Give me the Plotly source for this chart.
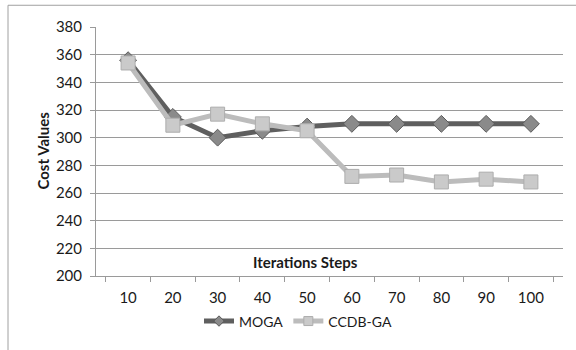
import plotly.graph_objects as go

# Iteration steps (categories) and cost per algorithm
steps = ["10", "20", "30", "40", "50", "60", "70", "80", "90", "100"]
moga = [356, 315, 300, 305, 308, 310, 310, 310, 310, 310]
ccdb_ga = [354, 309, 317, 310, 305, 272, 273, 268, 270, 268]
y_ticks = [200, 220, 240, 260, 280, 300, 320, 340, 360, 380]

FONT = "Lato"
GRID = "#9a9a9a"

series = [
    dict(name="MOGA", y=moga, line="#5f5f5f", symbol="diamond", size=13,
         fill="#8a8a8a", edge="#5a5a5a", legend_size=8),
    dict(name="CCDB-GA", y=ccdb_ga, line="#bcbcbc", symbol="square", size=14,
         fill="#cacaca", edge="#adadad", legend_size=9),
]

fig = go.Figure()
for s in series:
    fig.add_trace(go.Scatter(
        x=steps, y=s["y"], name=s["name"], mode="lines+markers",
        showlegend=False,
        line=dict(color=s["line"], width=5),
        marker=dict(symbol=s["symbol"], size=s["size"], color=s["fill"],
                    line=dict(color=s["edge"], width=1)),
    ))
# legend entries carry smaller markers than the plotted points
for s in series:
    fig.add_trace(go.Scatter(
        x=[None], y=[None], name=s["name"], mode="lines+markers",
        line=dict(color=s["line"], width=5),
        marker=dict(symbol=s["symbol"], size=s["legend_size"], color=s["fill"],
                    line=dict(color=s["edge"], width=1)),
    ))

# plot-area pixel box used for the frame lines and titles
L, R, T, B = 96, 563, 27, 279
W, H = R - L, B - T

def px(x):
    return (x - L) / W

def py(y):
    return (B - y) / H

fig.update_layout(
    width=576, height=350,
    margin=dict(l=L, r=576 - R, t=T, b=350 - B),
    paper_bgcolor="white", plot_bgcolor="white",
    font=dict(family=FONT, size=15, color="#1a1a1a"),
    showlegend=True,
    legend=dict(orientation="h", x=px(298), xanchor="center", y=py(325),
                yanchor="middle", font=dict(size=14), itemwidth=30,
                tracegroupgap=0, bgcolor="rgba(0,0,0,0)"),
    xaxis=dict(type="category", categoryorder="array", categoryarray=steps,
               tickson="boundaries", ticks="outside", ticklen=5,
               tickcolor=GRID, showline=True, linecolor=GRID, linewidth=1,
               showgrid=False, zeroline=False, ticklabelstandoff=8,
               tickfont=dict(size=15)),
    yaxis=dict(range=[200, 380], tickvals=y_ticks, ticks="outside", ticklen=5,
               tickcolor=GRID, showline=True, linecolor=GRID, linewidth=1,
               showgrid=True, gridcolor=GRID, gridwidth=1, zeroline=False,
               ticklabelstandoff=5, tickfont=dict(size=15)),
    annotations=[
        dict(text="<b>Iterations Steps</b>", xref="paper", yref="paper",
             x=px(305), y=py(265), xanchor="center", yanchor="middle",
             showarrow=False, font=dict(size=15)),
        dict(text="<b>Cost Values</b>", xref="paper", yref="paper",
             x=px(43), y=py(152), xanchor="center", yanchor="middle",
             showarrow=False, textangle=-90, font=dict(size=15)),
    ],
    shapes=[
        dict(type="line", xref="paper", yref="paper",
             x0=px(8), x1=px(580), y0=py(5), y1=py(5),
             line=dict(color="#a0a0a0", width=1)),
        dict(type="line", xref="paper", yref="paper",
             x0=px(8), x1=px(8), y0=py(5), y1=py(355),
             line=dict(color="#a0a0a0", width=1)),
    ],
)

fig.write_html("out.html")
